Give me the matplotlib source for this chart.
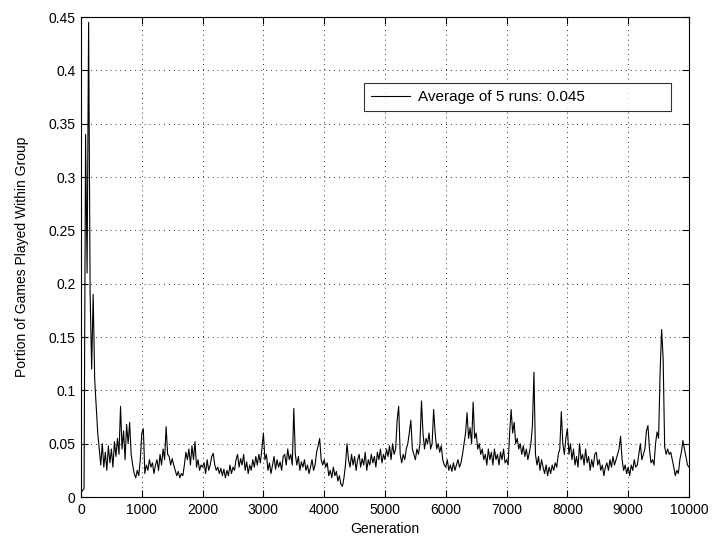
import numpy as np
import matplotlib
matplotlib.use("Agg")
import matplotlib.pyplot as plt

plt.rcParams['font.family'] = ['Liberation Sans', 'DejaVu Sans']

# Generations sampled every 25 steps
step = 25
generations = np.arange(0, 10001, step)

# Portion of games played within group (average of 5 runs), in blocks of 1000 generations
block_0 = [0.005, 0.006, 0.008, 0.34, 0.21, 0.445, 0.19, 0.12, 0.19, 0.11,
           0.085, 0.06, 0.045, 0.03, 0.05, 0.028, 0.042, 0.025, 0.048, 0.032,
           0.045, 0.028, 0.052, 0.038, 0.055, 0.04, 0.085, 0.045, 0.062, 0.035,
           0.068, 0.05, 0.07, 0.04, 0.03, 0.022, 0.018, 0.025, 0.02, 0.035]
block_1 = [0.06, 0.064, 0.022, 0.03, 0.025, 0.035, 0.028, 0.032, 0.022, 0.03,
           0.035, 0.025, 0.04, 0.03, 0.045, 0.035, 0.066, 0.04, 0.038, 0.03,
           0.036, 0.03, 0.025, 0.02, 0.024, 0.018, 0.022, 0.02, 0.03, 0.042,
           0.035, 0.045, 0.03, 0.048, 0.035, 0.052, 0.028, 0.035, 0.025, 0.03]
block_2 = [0.028, 0.032, 0.022, 0.035, 0.025, 0.03, 0.038, 0.041, 0.03, 0.025,
           0.028, 0.022, 0.027, 0.02, 0.026, 0.018, 0.025, 0.02, 0.03, 0.022,
           0.028, 0.025, 0.035, 0.04, 0.028, 0.036, 0.03, 0.04, 0.025, 0.033,
           0.022, 0.03, 0.025, 0.035, 0.028, 0.038, 0.03, 0.04, 0.032, 0.045]
block_3 = [0.06, 0.035, 0.04, 0.025, 0.032, 0.022, 0.03, 0.038, 0.026, 0.035,
           0.028, 0.033, 0.025, 0.038, 0.04, 0.03, 0.045, 0.035, 0.04, 0.03,
           0.083, 0.04, 0.03, 0.038, 0.025, 0.033, 0.028, 0.035, 0.025, 0.03,
           0.022, 0.028, 0.035, 0.025, 0.03, 0.042, 0.048, 0.055, 0.035, 0.03]
block_4 = [0.035, 0.028, 0.032, 0.02, 0.025, 0.018, 0.028, 0.02, 0.024, 0.015,
           0.02, 0.012, 0.01, 0.018, 0.03, 0.05, 0.035, 0.028, 0.04, 0.03,
           0.038, 0.025, 0.035, 0.04, 0.028, 0.036, 0.03, 0.042, 0.025, 0.035,
           0.03, 0.04, 0.032, 0.038, 0.028, 0.042, 0.035, 0.045, 0.032, 0.04]
block_5 = [0.035, 0.045, 0.038, 0.048, 0.035, 0.05, 0.04, 0.045, 0.072, 0.085,
           0.04, 0.032, 0.04, 0.035, 0.045, 0.05, 0.06, 0.072, 0.045, 0.04,
           0.035, 0.045, 0.04, 0.05, 0.09, 0.06, 0.045, 0.055, 0.05, 0.06,
           0.045, 0.05, 0.082, 0.06, 0.045, 0.05, 0.042, 0.048, 0.035, 0.03]
block_6 = [0.028, 0.035, 0.025, 0.03, 0.024, 0.032, 0.025, 0.03, 0.035, 0.028,
           0.032, 0.04, 0.05, 0.06, 0.079, 0.055, 0.065, 0.05, 0.089, 0.055,
           0.06, 0.045, 0.05, 0.04, 0.045, 0.035, 0.04, 0.03, 0.045, 0.035,
           0.042, 0.03, 0.045, 0.035, 0.04, 0.03, 0.042, 0.035, 0.045, 0.032]
block_7 = [0.035, 0.03, 0.06, 0.082, 0.06, 0.07, 0.05, 0.055, 0.045, 0.05,
           0.04, 0.048, 0.038, 0.045, 0.035, 0.042, 0.05, 0.067, 0.117, 0.04,
           0.03, 0.038, 0.025, 0.035, 0.028, 0.022, 0.03, 0.02, 0.028, 0.022,
           0.03, 0.025, 0.032, 0.028, 0.04, 0.045, 0.08, 0.05, 0.04, 0.055]
block_8 = [0.064, 0.04, 0.05, 0.035, 0.045, 0.03, 0.038, 0.028, 0.05, 0.035,
           0.04, 0.03, 0.045, 0.032, 0.038, 0.025, 0.035, 0.028, 0.04, 0.042,
           0.03, 0.035, 0.025, 0.03, 0.02, 0.028, 0.032, 0.025, 0.035, 0.028,
           0.038, 0.03, 0.035, 0.04, 0.045, 0.057, 0.035, 0.025, 0.03, 0.022]
block_9 = [0.028, 0.02, 0.03, 0.025, 0.035, 0.028, 0.03, 0.04, 0.05, 0.035,
           0.04, 0.045, 0.062, 0.067, 0.045, 0.032, 0.035, 0.03, 0.05, 0.061,
           0.055, 0.116, 0.157, 0.13, 0.047, 0.04, 0.045, 0.04, 0.042, 0.035,
           0.028, 0.02, 0.025, 0.022, 0.035, 0.042, 0.053, 0.045, 0.038, 0.03,
           0.028]

portion = np.array(block_0 + block_1 + block_2 + block_3 + block_4 +
                   block_5 + block_6 + block_7 + block_8 + block_9)

legend_label = "Average of 5 runs: 0.045"
x_ticks = np.arange(0, 10001, 1000)
y_ticks = [0, 0.05, 0.1, 0.15, 0.2, 0.25, 0.3, 0.35, 0.4, 0.45]
y_tick_labels = ["0", "0.05", "0.1", "0.15", "0.2", "0.25", "0.3", "0.35", "0.4", "0.45"]

fig = plt.figure(figsize=(7.15, 5.42), dpi=100)
ax = fig.add_axes([0.1133, 0.083, 0.8503, 0.8856])

ax.plot(generations, portion, color="black", linewidth=0.8, label=legend_label)

ax.set_xlim(0, 10000)
ax.set_ylim(0, 0.45)
ax.set_xticks(x_ticks)
ax.set_yticks(y_ticks)
ax.set_yticklabels(y_tick_labels)
ax.tick_params(direction="in", top=True, right=True, length=5, width=0.8,
               labelsize=10, pad=4)
for side in ax.spines.values():
    side.set_linewidth(0.8)

ax.grid(True, color="black", linestyle=(0, (0.8, 4.2)), linewidth=0.7)

ax.set_xlabel("Generation", fontsize=10, labelpad=4)
ax.set_ylabel("Portion of Games Played Within Group", fontsize=10, labelpad=14)

leg = ax.legend(loc="upper left", bbox_to_anchor=(0.465, 0.80, 0.505, 0.0625),
                mode="expand", fontsize=11, frameon=True, fancybox=False,
                borderaxespad=0, handlelength=2.6, handletextpad=0.5,
                borderpad=0.45)
leg.get_frame().set_edgecolor("black")
leg.get_frame().set_linewidth(0.8)

fig.savefig("out.png", dpi=100)
